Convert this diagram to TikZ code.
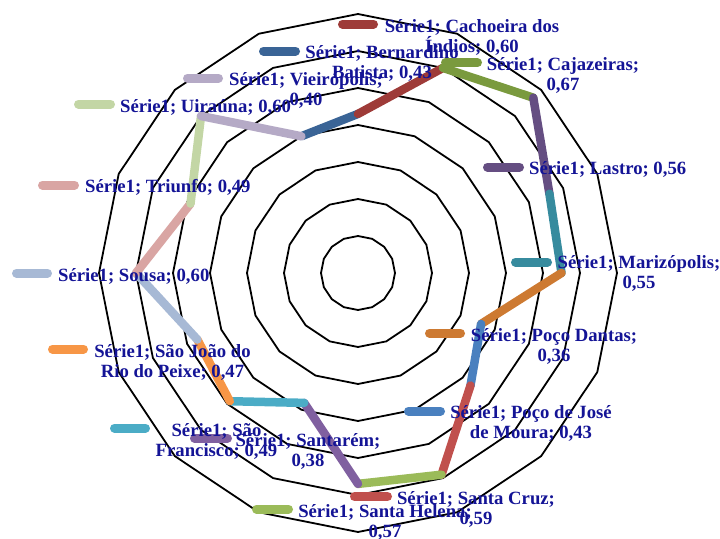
\documentclass[tikz,border=0pt]{standalone}
\usepackage{fontspec}
\setmainfont{Liberation Serif}
\definecolor{lblc}{RGB}{20,20,150}
\definecolor{c0}{RGB}{58,100,150}
\definecolor{c1}{RGB}{158,59,56}
\definecolor{c2}{RGB}{122,154,62}
\definecolor{c3}{RGB}{101,78,130}
\definecolor{c4}{RGB}{55,139,158}
\definecolor{c5}{RGB}{205,122,50}
\definecolor{c6}{RGB}{74,128,191}
\definecolor{c7}{RGB}{192,80,77}
\definecolor{c8}{RGB}{155,187,89}
\definecolor{c9}{RGB}{128,96,160}
\definecolor{c10}{RGB}{75,172,198}
\definecolor{c11}{RGB}{247,150,70}
\definecolor{c12}{RGB}{167,185,213}
\definecolor{c13}{RGB}{217,165,163}
\definecolor{c14}{RGB}{195,214,165}
\definecolor{c15}{RGB}{181,170,198}
\begin{document}
\begin{tikzpicture}[x=1pt,y=-1pt,
  gridline/.style={black, line width=1.8pt, line join=miter},
  seg/.style={line width=8.5pt, line cap=round},
  keyline/.style={line width=9pt, line cap=round},
  lbl/.style={text=lblc, font=\fontsize{18.7}{20.5}\selectfont\bfseries, inner sep=0pt},
]
\useasboundingbox (0,0) rectangle (720,538);
\begin{scope}[shift={(358,273)}]
\foreach \r in {37,74,111,148,185,222,259} {
  \draw[gridline] (-90:\r) \foreach \i in {1,...,15} { -- ({22.5*\i-90}:\r) } -- cycle;
}
\coordinate (p0) at (-90:159.1);
\coordinate (p1) at (-67.5:222);
\coordinate (p2) at (-45:247.9);
\coordinate (p3) at (-22.5:207.2);
\coordinate (p4) at (0:203.5);
\coordinate (p5) at (22.5:133.2);
\coordinate (p6) at (45:159.1);
\coordinate (p7) at (67.5:218.3);
\coordinate (p8) at (90:210.9);
\coordinate (p9) at (112.5:140.6);
\coordinate (p10) at (135:181.3);
\coordinate (p11) at (157.5:173.9);
\coordinate (p12) at (180:222);
\coordinate (p13) at (202.5:181.3);
\coordinate (p14) at (225:222);
\coordinate (p15) at (247.5:148);
\end{scope}
\draw[seg,c0] (p15) -- (p0);
\draw[seg,c1] (p0) -- (p1);
\draw[seg,c2] (p1) -- (p2);
\draw[seg,c3] (p2) -- (p3);
\draw[seg,c4] (p3) -- (p4);
\draw[seg,c5] (p4) -- (p5);
\draw[seg,c6] (p5) -- (p6);
\draw[seg,c7] (p6) -- (p7);
\draw[seg,c8] (p7) -- (p8);
\draw[seg,c9] (p8) -- (p9);
\draw[seg,c10] (p9) -- (p10);
\draw[seg,c11] (p10) -- (p11);
\draw[seg,c12] (p11) -- (p12);
\draw[seg,c13] (p12) -- (p13);
\draw[seg,c14] (p13) -- (p14);
\draw[seg,c15] (p14) -- (p15);
% labels
\draw[keyline,c0] (263.5,51) -- (295.5,51);
\node[lbl,anchor=base] (t0a) at (382,58) {Série1; Bernardino};
\node[lbl,anchor=base] (t0b) at (382,78.5) {Batista; 0,43};
\draw[keyline,c1] (342.5,24) -- (373.5,24);
\node[lbl,anchor=base] (t1a) at (472,32) {Série1; Cachoeira dos};
\node[lbl,anchor=base] (t1b) at (472,52.5) {Índios; 0,60};
\draw[keyline,c2] (445.5,62.7) -- (477.5,62.7);
\node[lbl,anchor=base] (t2a) at (563,70) {Série1; Cajazeiras;};
\node[lbl,anchor=base] (t2b) at (563,90.5) {0,67};
\draw[keyline,c3] (487.5,167) -- (519.5,167);
\node[lbl,anchor=base west] (t3a) at (529,174) {Série1; Lastro; 0,56};
\draw[keyline,c4] (515.5,262) -- (547.5,262);
\node[lbl,anchor=base] (t4a) at (639,268) {Série1; Marizópolis;};
\node[lbl,anchor=base] (t4b) at (639,288.5) {0,55};
\draw[keyline,c5] (429.5,333) -- (460.5,333);
\node[lbl,anchor=base] (t5a) at (554,341) {Série1; Poço Dantas;};
\node[lbl,anchor=base] (t5b) at (554,361.5) {0,36};
\draw[keyline,c6] (408.5,411) -- (440.5,411);
\node[lbl,anchor=base] (t6a) at (531,418) {Série1; Poço de José};
\node[lbl,anchor=base] (t6b) at (531,438.5) {de Moura; 0,43};
\draw[keyline,c7] (354.5,496.5) -- (387.5,496.5);
\node[lbl,anchor=base] (t7a) at (476,504) {Série1; Santa Cruz;};
\node[lbl,anchor=base] (t7b) at (476,524.5) {0,59};
\draw[keyline,c8] (256.5,509) -- (288.5,509);
\node[lbl,anchor=base] (t8a) at (385,517) {Série1; Santa Helena;};
\node[lbl,anchor=base] (t8b) at (385,537.5) {0,57};
\draw[keyline,c9] (194.5,438) -- (227.5,438);
\node[lbl,anchor=base] (t9a) at (308,446) {Série1; Santarém;};
\node[lbl,anchor=base] (t9b) at (308,466.5) {0,38};
\draw[keyline,c10] (114.5,428) -- (145.5,428);
\node[lbl,anchor=base] (t10a) at (216.5,436) {Série1; São};
\node[lbl,anchor=base] (t10b) at (216.5,456.5) {Francisco; 0,49};
\draw[keyline,c11] (52.5,349) -- (83.5,349);
\node[lbl,anchor=base] (t11a) at (172.5,357) {Série1; São João do};
\node[lbl,anchor=base] (t11b) at (172.5,377.5) {Rio do Peixe; 0,47};
\draw[keyline,c12] (16.5,273) -- (47.5,273);
\node[lbl,anchor=base west] (t12a) at (58,281) {Série1; Sousa; 0,60};
\draw[keyline,c13] (42.5,185) -- (74.5,185);
\node[lbl,anchor=base west] (t13a) at (85,192) {Série1; Triunfo; 0,49};
\draw[keyline,c14] (78.5,104) -- (110.5,104);
\node[lbl,anchor=base west] (t14a) at (120,112) {Série1; Uiraúna; 0,60};
\draw[keyline,c15] (187.5,78) -- (218.5,78);
\node[lbl,anchor=base] (t15a) at (306,85) {Série1; Vieirópolis;};
\node[lbl,anchor=base] (t15b) at (306,105.5) {0,40};
\end{tikzpicture}
\end{document}
